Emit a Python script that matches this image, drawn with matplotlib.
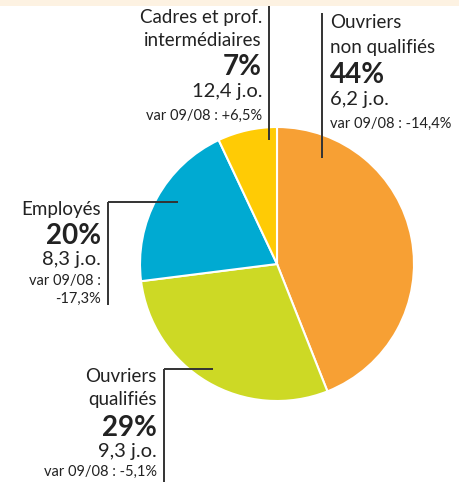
import matplotlib.pyplot as plt
from matplotlib.patches import Rectangle

# --------------------------------------------------------------
# Data
# --------------------------------------------------------------
categories = ["Ouvriers\nnon qualifiés", "Ouvriers\nqualifiés", "Employés",
              "Cadres et prof.\nintermédiaires"]
shares = [44, 29, 20, 7]
days = ["6,2 j.o.", "9,3 j.o.", "8,3 j.o.", "12,4 j.o."]
variations = ["var 09/08 : -14,4%", "var 09/08 : -5,1%", "var 09/08 :\n-17,3%",
              "var 09/08 : +6,5%"]
colors = ["#F7A034", "#CDD925", "#00AAD2", "#FFCB05"]

W, H = 459, 482
plt.rcParams["font.family"] = ["Lato", "DejaVu Sans"]

fig = plt.figure(figsize=(W / 100, H / 100), dpi=100)
ax = fig.add_axes([0, 0, 1, 1])


def Y(y):
    # image pixel row -> data y
    return H - y


ax.pie(shares, colors=colors, startangle=90, counterclock=False,
       center=(277, Y(264)), radius=137,
       wedgeprops=dict(edgecolor="white", linewidth=1.5))
ax.set_xlim(0, W)
ax.set_ylim(0, H)
ax.set_aspect("equal")
ax.axis("off")

# cream band at the top
ax.add_patch(Rectangle((0, Y(6)), W, 6, color="#FDF2E2", lw=0, zorder=0))

line_kw = dict(color="#333333", lw=1.4, solid_capstyle="butt")
# leader lines
ax.plot([269, 269], [Y(6), Y(140)], **line_kw)
ax.plot([322, 322], [Y(13), Y(158)], **line_kw)
ax.plot([108, 178], [Y(202), Y(202)], **line_kw)
ax.plot([108, 108], [Y(202), Y(305)], **line_kw)
ax.plot([164, 213], [Y(369), Y(369)], **line_kw)
ax.plot([164, 164], [Y(369), Y(482)], **line_kw)

tc = "#222222"
name_fs, pct_fs, day_fs, var_fs = 13.5, 20, 14.5, 10.5


def label(x, ys, i, ha):
    name_lines = categories[i].split("\n")
    k = 0
    for ln in name_lines:
        ax.text(x, Y(ys[k]), ln, ha=ha, va="center", fontsize=name_fs, color=tc)
        k += 1
    ax.text(x, Y(ys[k]), f"{shares[i]}%", ha=ha, va="center",
            fontsize=pct_fs, fontweight="bold", color=tc)
    k += 1
    ax.text(x, Y(ys[k]), days[i], ha=ha, va="center", fontsize=day_fs, color=tc)
    k += 1
    for ln in variations[i].split("\n"):
        ax.text(x, Y(ys[k]), ln, ha=ha, va="center", fontsize=var_fs, color=tc)
        k += 1


label(262, [17, 40, 67, 91, 116], 3, "right")
label(330, [22, 47, 75, 100, 124], 0, "left")
label(101, [210, 236, 260, 281, 299], 2, "right")
label(157, [377, 400, 428, 451, 472], 1, "right")

fig.savefig("out.png", dpi=100)
